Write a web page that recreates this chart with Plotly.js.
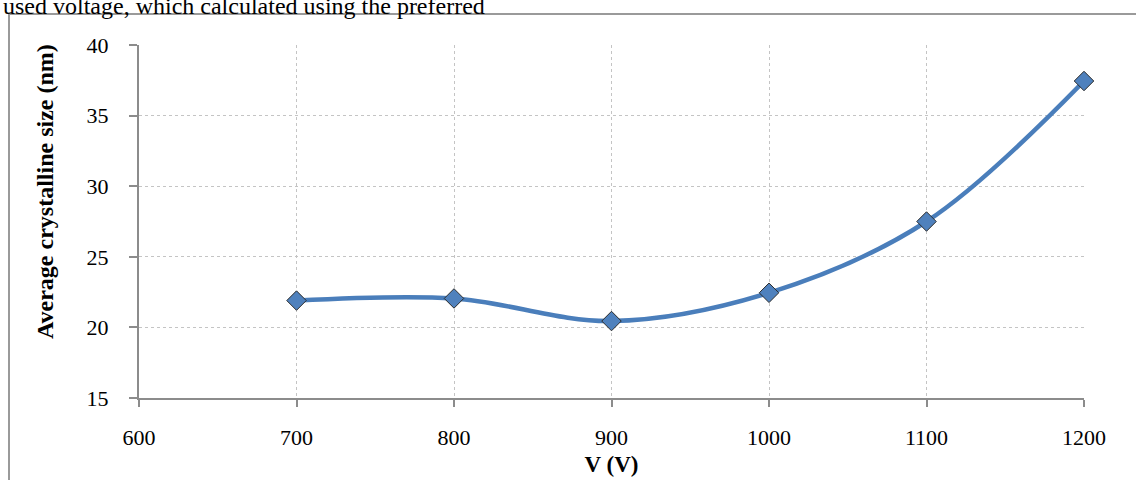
<!DOCTYPE html>
<html>
<head>
<meta charset="utf-8">
<script src="https://cdn.plot.ly/plotly-3.0.1.min.js"></script>
<style>html,body{margin:0;padding:0;background:#fff;}#chart{width:1136px;height:480px;}</style>
</head>
<body>
<div id="chart"></div>
<script>
const voltage = [700, 800, 900, 1000, 1100, 1200];
const crystalSize = [21.9, 22.05, 20.45, 22.45, 27.5, 37.45];
const xTicks = [600, 700, 800, 900, 1000, 1100, 1200];
const yTicks = [15, 20, 25, 30, 35, 40];
const xTitle = "V (V)";
const yTitle = "Average crystalline size (nm)";
const captionText = "used voltage, which calculated using the preferred";

const W = 1136, H = 480, L = 139, R = 52, T = 45, B = 82;
const pw = W - L - R, ph = H - T - B;
const px = v => (v - L) / pw;
const py = v => 1 + (T - v) / ph;

const serif = "Liberation Serif, Times New Roman, serif";

const trace = {
  x: voltage, y: crystalSize, type: 'scatter', mode: 'lines+markers',
  line: {shape: 'spline', smoothing: 1, color: '#4A7EBB', width: 4.5},
  marker: {symbol: 'diamond', size: 15, color: '#4F81BD', line: {color: '#2b2b2b', width: 1}},
  cliponaxis: false, hoverinfo: 'skip'
};

const layout = {
  width: W, height: H,
  margin: {l: L, r: R, t: T, b: B, pad: 0},
  paper_bgcolor: '#fff', plot_bgcolor: '#fff',
  showlegend: false,
  font: {family: serif, size: 22, color: '#000'},
  xaxis: {
    range: [600, 1200], tickvals: xTicks, ticktext: xTicks.map(String),
    showgrid: true, gridcolor: '#c4c4c4', griddash: 'dot', gridwidth: 1,
    showline: true, linecolor: '#8c8c8c', linewidth: 2,
    ticks: 'outside', ticklen: 7, tickcolor: '#8c8c8c', tickwidth: 2,
    ticklabelstandoff: 12, zeroline: false,
    tickfont: {family: serif, size: 22, color: '#000'},
    title: {text: '<b>' + xTitle + '</b>', font: {family: serif, size: 23, color: '#000'}, standoff: 6}
  },
  yaxis: {
    range: [15, 40], tickvals: yTicks, ticktext: yTicks.map(String),
    showgrid: true, gridcolor: '#c4c4c4', griddash: 'dot', gridwidth: 1,
    showline: true, linecolor: '#8c8c8c', linewidth: 2,
    ticks: 'outside', ticklen: 8, tickcolor: '#8c8c8c', tickwidth: 2,
    ticklabelstandoff: 16, zeroline: false,
    tickfont: {family: serif, size: 22, color: '#000'}
  },
  shapes: [
    {type: 'line', xref: 'paper', yref: 'paper', x0: px(9), x1: px(9), y0: py(13), y1: py(490), line: {color: '#9a9a9a', width: 2}},
    {type: 'line', xref: 'paper', yref: 'paper', x0: px(8), x1: px(1140), y0: py(14), y1: py(14), line: {color: '#9a9a9a', width: 2}}
  ],
  annotations: [
    {text: captionText, xref: 'paper', yref: 'paper', x: px(1), y: py(21), xanchor: 'left', yanchor: 'bottom',
     showarrow: false, font: {family: serif, size: 24, color: '#000'}},
    {text: '<b>' + yTitle + '</b>', textangle: -90, xref: 'paper', yref: 'paper', x: px(45), y: py(192),
     xanchor: 'center', yanchor: 'middle', showarrow: false, font: {family: serif, size: 24, color: '#000'}}
  ]
};

Plotly.newPlot('chart', [trace], layout, {displayModeBar: false, staticPlot: true});
</script>
</body>
</html>
